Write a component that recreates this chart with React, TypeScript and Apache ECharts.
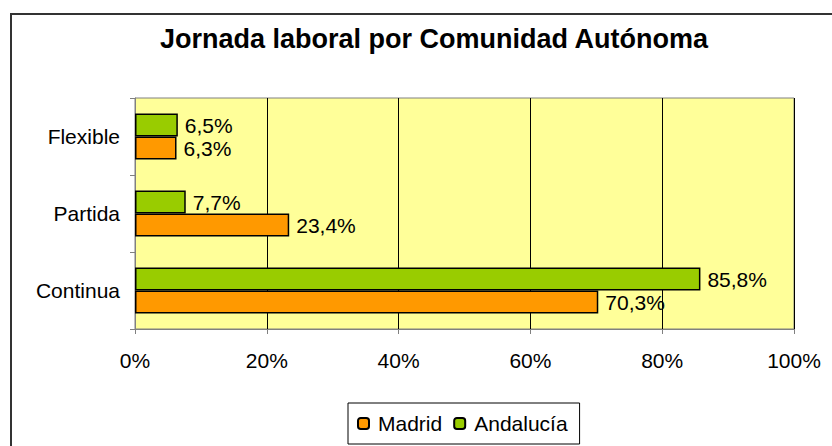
import React, { useEffect, useRef } from "react";
import * as echarts from "echarts";

const categories = ["Continua", "Partida", "Flexible"];
const madrid = [70.3, 23.4, 6.3];
const andalucia = [85.8, 7.7, 6.5];
const seriesNames = ["Madrid", "Andalucía"];
const titleText = "Jornada laboral por Comunidad Autónoma";

const fmt = (v: number) => v.toFixed(1).replace(".", ",") + "%";

export default function App() {
  const ref = useRef<HTMLDivElement>(null);
  useEffect(() => {
    const chart = echarts.init(ref.current!, null, { renderer: "svg" });
    const font = "'Liberation Sans', Arial, sans-serif";
    const label = {
      show: true,
      position: "right",
      distance: 7,
      fontSize: 21,
      color: "#000",
      fontFamily: font,
      formatter: (p: any) => fmt(p.value),
    };
    chart.setOption({
      animation: false,
      backgroundColor: "#ffffff",
      textStyle: { fontFamily: font },
      title: {
        text: titleText,
        left: 160,
        top: 25,
        padding: 0,
        textStyle: { fontFamily: font, fontSize: 27, fontWeight: "bold", color: "#000" },
      },
      graphic: [
        {
          type: "rect",
          shape: { x: 11, y: 14, width: 840, height: 460 },
          style: { fill: "none", stroke: "#333", lineWidth: 2 },
          z: 100,
        },
        {
          type: "rect",
          shape: { x: 135, y: 98, width: 659, height: 231 },
          style: { fill: "#FFFF99", stroke: "#808080", lineWidth: 1 },
          z: -1,
        },
      ],
      legend: {
        data: seriesNames,
        left: 348,
        top: 403,
        itemWidth: 11,
        itemHeight: 11,
        itemGap: 11,
        padding: [10, 12, 10, 9],
        borderColor: "#000",
        borderWidth: 1,
        textStyle: { fontFamily: font, fontSize: 21, color: "#000", padding: [0, 0, 0, 4] },
      },
      grid: { left: 135, top: 98, right: 38, bottom: 117, containLabel: false },
      xAxis: {
        type: "value",
        min: 0,
        max: 100,
        interval: 20,
        axisLine: { show: true, lineStyle: { color: "#808080" } },
        axisTick: { show: true, length: 5, lineStyle: { color: "#808080" } },
        axisLabel: {
          formatter: "{value}%",
          fontSize: 21,
          color: "#000",
          margin: 21,
          fontFamily: font,
        },
        splitLine: { show: true, lineStyle: { color: "#000", width: 1 } },
      },
      yAxis: {
        type: "category",
        data: categories,
        axisLine: { show: true, lineStyle: { color: "#808080" } },
        axisTick: { show: true, length: 5, lineStyle: { color: "#808080" } },
        axisLabel: { fontSize: 21, color: "#000", margin: 15, fontFamily: font },
      },
      series: [
        {
          name: seriesNames[1],
          type: "bar",
          data: andalucia,
          barWidth: 23,
          barGap: "0%",
          itemStyle: { color: "#99CC00", borderColor: "#000", borderWidth: 1.5 },
          label,
        },
        {
          name: seriesNames[0],
          type: "bar",
          data: madrid,
          barWidth: 23,
          barGap: "0%",
          itemStyle: { color: "#FF9900", borderColor: "#000", borderWidth: 1.5 },
          label,
        },
      ],
    });
    return () => chart.dispose();
  }, []);
  return (
    <div
      ref={ref}
      style={{ position: "fixed", left: 0, top: 0, width: 832, height: 446 }}
    />
  );
}
